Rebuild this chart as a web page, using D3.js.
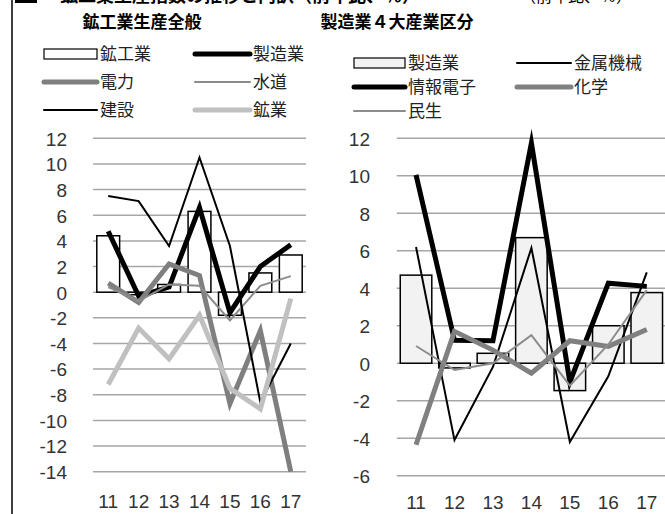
<!DOCTYPE html>
<html><head><meta charset="utf-8">
<script src="https://cdn.jsdelivr.net/npm/d3@7"></script>
<style>body{margin:0;background:#fff}svg{display:block}</style>
</head><body><svg id="c" width="665" height="514"></svg>
<script>
const years = ["11","12","13","14","15","16","17"];
// left panel
const leftTitle = "鉱工業生産全般";
const kokougyo = [4.4, -0.2, 0.6, 6.3, -1.8, 1.5, 2.9];
const seizou = [4.75, -0.3, 0.4, 6.6, -1.6, 2.0, 3.7];
const denryoku = [0.7, -0.8, 2.2, 1.3, -8.7, -3.0, -14.0];
const suido = [0.4, -0.7, 0.6, 0.5, -2.2, 0.5, 1.25];
const kensetsu = [7.5, 7.1, 3.6, 10.5, 3.6, -8.6, -4.0];
const kogyo = [-7.2, -2.8, -5.2, -1.8, -7.5, -9.1, -0.5];
const leftTicks = [12,10,8,6,4,2,0,-2,-4,-6,-8,-10,-12,-14];
// right panel
const rightTitle = "製造業４大産業区分";
const seizouBar = [4.7, -0.25, 0.53, 6.7, -1.46, 2.0, 3.77];
const kinzoku = [6.2, -4.1, -0.2, 6.15, -4.2, -0.7, 4.85];
const joho = [10.05, 1.22, 1.2, 11.75, -1.0, 4.27, 4.1];
const kagaku = [-4.35, 1.7, 0.7, -0.53, 1.2, 0.9, 1.8];
const minsei = [0.92, -0.36, 0.0, 1.5, -1.2, 1.0, 3.9];
const rightTicks = [12,10,8,6,4,2,0,-2,-4,-6];

const svg = d3.select("#c");
const JP = "'Noto Sans CJK JP','Noto Sans',sans-serif";
const NUM = "'Liberation Sans',Arial,sans-serif";
const gridCol = "#a6a6a6";

// frame line & cropped top heading
svg.append("line").attr("x1",12).attr("x2",12).attr("y1",0).attr("y2",514).attr("stroke","#000").attr("stroke-width",1.5);
svg.append("rect").attr("x",15).attr("y",0).attr("width",22).attr("height",3).attr("fill","#000");
svg.append("text").attr("x",60).attr("y",2).attr("font-family",JP).attr("font-size",18).attr("font-weight","bold")
  .text("鉱工業生産指数の推移と内訳（前年比、％）");
svg.append("text").attr("x",520).attr("y",2).attr("font-family",JP).attr("font-size",16)
  .text("（前年比、％）");

function panel(opt){
  const g = svg.append("g");
  const x = d3.scaleBand().domain(years).range(opt.xr).paddingInner(opt.pad).paddingOuter(opt.pad/2);
  const y = d3.scaleLinear().domain(opt.yd).range(opt.yr);
  const cx = d => x(d) + x.bandwidth()/2;
  // title
  g.append("text").attr("x",opt.titleX).attr("y",28).attr("text-anchor","middle")
    .attr("font-family",JP).attr("font-size",17).attr("font-weight","bold").text(opt.title);
  // grid
  g.selectAll(".gr").data(opt.ticks).join("line")
    .attr("x1",opt.xr[0]).attr("x2",opt.xr[1]).attr("y1",d=>y(d)).attr("y2",d=>y(d))
    .attr("stroke",gridCol).attr("stroke-width",1.5);
  // y labels
  const ya = d3.axisLeft(y).tickValues(opt.ticks).tickSize(0).tickPadding(0).tickFormat(d=>String(d));
  const yg = g.append("g").attr("transform",`translate(${opt.ylabX},0)`).call(ya);
  yg.select(".domain").remove();
  yg.selectAll("text").attr("font-family",NUM).attr("font-size",19).attr("fill","#333").attr("dy","0.36em");
  // x labels
  const xa = d3.axisBottom(x).tickSize(0).tickPadding(0);
  const xg = g.append("g").attr("transform",`translate(0,${opt.xlabY})`).call(xa);
  xg.select(".domain").remove();
  xg.selectAll("text").attr("font-family",NUM).attr("font-size",19).attr("fill","#333").attr("dy","0");
  // bars
  g.selectAll(".bar").data(opt.bars).join("rect")
    .attr("x",(d,i)=>x(years[i])).attr("width",x.bandwidth())
    .attr("y",d=>y(Math.max(0,d))).attr("height",d=>Math.abs(y(d)-y(0)))
    .attr("fill",opt.barFill).attr("stroke","#000").attr("stroke-width",1.5);
  // lines
  const line = d3.line().x((d,i)=>cx(years[i])).y(d=>y(d));
  opt.lines.forEach(s=>{
    g.append("path").datum(s.v).attr("d",line).attr("fill","none")
      .attr("stroke",s.c).attr("stroke-width",s.w).attr("stroke-linejoin","miter").attr("stroke-miterlimit",10);
  });
  // legend
  opt.legend.forEach(l=>{
    if(l.type==="bar"){
      g.append("rect").attr("x",l.x).attr("y",l.y-5).attr("width",l.len).attr("height",10)
        .attr("fill",opt.barFill).attr("stroke","#000").attr("stroke-width",1.2);
    } else {
      g.append("line").attr("x1",l.x).attr("x2",l.x+l.len).attr("y1",l.y).attr("y2",l.y)
        .attr("stroke",l.c).attr("stroke-width",l.w).attr("stroke-linecap","round");
    }
    g.append("text").attr("x",l.x+l.len+3).attr("y",l.y).attr("dy","0.36em")
      .attr("font-family",JP).attr("font-size",17).attr("fill","#222").text(l.t);
  });
}

panel({
  title:leftTitle, titleX:142,
  xr:[93,306], pad:0.25, yd:[-14,12], yr:[471.7,138.3], ticks:leftTicks,
  ylabX:67, xlabY:508, barFill:"#fff", bars:kokougyo,
  lines:[
    {v:seizou,c:"#000",w:5},
    {v:denryoku,c:"#7f7f7f",w:5},
    {v:suido,c:"#8c8c8c",w:2},
    {v:kensetsu,c:"#000",w:2},
    {v:kogyo,c:"#c0c0c0",w:5}
  ],
  legend:[
    {type:"bar",x:44,y:54,len:53,t:"鉱工業"},
    {x:195,y:54,len:55,c:"#000",w:5,t:"製造業"},
    {x:44,y:82,len:53,c:"#7f7f7f",w:5,t:"電力"},
    {x:195,y:82,len:55,c:"#8c8c8c",w:2,t:"水道"},
    {x:44,y:110,len:53,c:"#000",w:2,t:"建設"},
    {x:195,y:110,len:55,c:"#c0c0c0",w:5,t:"鉱業"}
  ]
});

panel({
  title:rightTitle, titleX:397,
  xr:[396.8,666], pad:0.18, yd:[-6,12], yr:[475.7,138.3], ticks:rightTicks,
  ylabX:370, xlabY:509, barFill:"#f2f2f2", bars:seizouBar,
  lines:[
    {v:joho,c:"#000",w:5},
    {v:kinzoku,c:"#000",w:2},
    {v:kagaku,c:"#808080",w:5},
    {v:minsei,c:"#8c8c8c",w:2}
  ],
  legend:[
    {type:"bar",x:354,y:63,len:51,t:"製造業"},
    {x:517,y:63,len:54,c:"#000",w:2,t:"金属機械"},
    {x:354,y:87,len:51,c:"#000",w:5,t:"情報電子"},
    {x:517,y:87,len:54,c:"#808080",w:5,t:"化学"},
    {x:354,y:111,len:51,c:"#8c8c8c",w:2,t:"民生"}
  ]
});
</script></body></html>
